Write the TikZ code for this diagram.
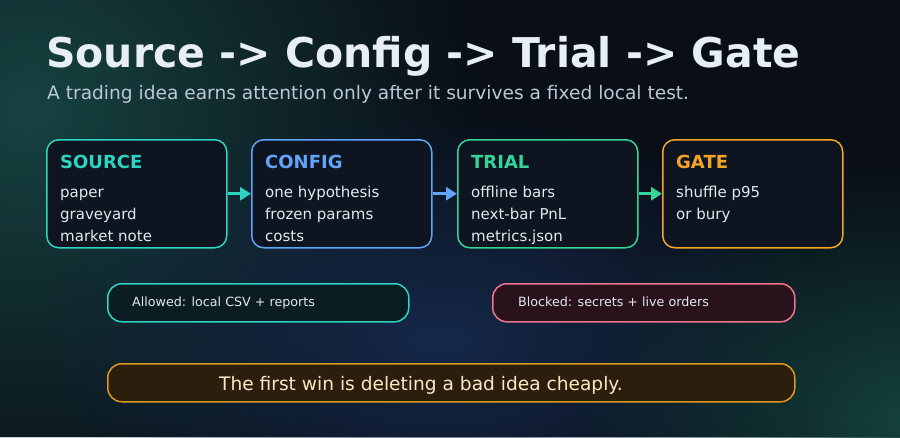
\documentclass[tikz,border=0pt]{standalone}
\usepackage{fontspec}
\setmainfont{DejaVu Sans}
\usetikzlibrary{arrows.meta,fadings}

\definecolor{bgbase}{HTML}{090E17}
\definecolor{bgteal}{HTML}{174241}
\definecolor{bgnavy}{HTML}{16294A}
\definecolor{bgtealb}{HTML}{14403B}
\definecolor{boxfill}{HTML}{0E1520}
\definecolor{titletext}{HTML}{E8EEF5}
\definecolor{subtext}{HTML}{B9C8D3}
\definecolor{bodytext}{HTML}{E2E8F0}
\definecolor{srccol}{HTML}{2DD4BF}
\definecolor{cfgcol}{HTML}{60A5FA}
\definecolor{trialcol}{HTML}{34D399}
\definecolor{gatecol}{HTML}{F5A524}
\definecolor{allowfill}{HTML}{0B1C22}
\definecolor{blockcol}{HTML}{F0758A}
\definecolor{blockfill}{HTML}{2A121D}
\definecolor{notecol}{HTML}{D99A1E}
\definecolor{notefill}{HTML}{2B1E0C}
\definecolor{notetext}{HTML}{FCE7C4}

\tikzfading[name=glow, inner color=transparent!0, outer color=transparent!100]

\tikzset{
  stage/.style={draw=#1, line width=1.5pt, rounded corners=12pt, fill=boxfill,
    minimum width=180pt, minimum height=108pt, anchor=north west, inner sep=0pt},
  stagetitle/.style={text=#1, anchor=base west, inner sep=0pt,
    font=\fontsize{18}{20}\selectfont\bfseries},
  stageline/.style={text=bodytext, anchor=base west, inner sep=0pt,
    font=\fontsize{15}{18}\selectfont},
  flow/.style={line width=3pt, -{Triangle[length=11pt,width=13pt]}},
  pill/.style={draw=#1, line width=1.5pt, rounded corners=14pt,
    minimum height=38pt, anchor=north west, inner sep=0pt},
  pilltext/.style={anchor=base west, inner sep=0pt, font=\fontsize{12.7}{15}\selectfont},
}

% one stage: name, left x, colour, heading, lines
\newcommand{\stagebox}[5]{%
  \node[stage=#3] (#1) at (#2,139) {};
  \node[stagetitle=#3] (#1-title) at (#2+14,168) {#4};
  \foreach \txt [count=\i] in {#5}
    \node[stageline] (#1-\i) at (#2+14,175+22*\i) {\txt};
}

\begin{document}
\begin{tikzpicture}[x=1pt, y=-1pt]
  \useasboundingbox (0,0) rectangle (900,437);
  % background
  \fill[bgbase] (0,0) rectangle (900,437);
  \begin{scope}
    \clip (0,0) rectangle (900,437);
    \fill[bgteal, path fading=glow] (30,110) ellipse (450 and 430);
    \fill[bgnavy, path fading=glow] (440,340) ellipse (400 and 230);
    \fill[bgtealb, path fading=glow] (900,420) ellipse (330 and 260);
  \end{scope}

  % heading
  \node[anchor=base west, inner sep=0pt, text=titletext,
    font=\fontsize{41}{48}\selectfont\bfseries] (title) at (46,67)
    {Source -> Config -> Trial -> Gate};
  \node[anchor=base west, inner sep=0pt, text=subtext,
    font=\fontsize{18.6}{22}\selectfont] (subtitle) at (47,99)
    {A trading idea earns attention only after it survives a fixed local test.};

  % stages
  \stagebox{src}{46}{srccol}{SOURCE}{paper, graveyard, market note}
  \stagebox{cfg}{251}{cfgcol}{CONFIG}{one hypothesis, frozen params, costs}
  \stagebox{trial}{457}{trialcol}{TRIAL}{offline bars, next-bar PnL, metrics.json}
  \stagebox{gate}{662}{gatecol}{GATE}{shuffle p95, or bury}

  \draw[flow, color=srccol] (src.east) -- (cfg.west);
  \draw[flow, color=cfgcol] (cfg.east) -- (trial.west);
  \draw[flow, color=trialcol] (trial.east) -- (gate.west);

  % rules
  \node[pill=srccol, fill=allowfill, minimum width=301pt] (allowed) at (107,283) {};
  \node[pilltext, text=bodytext] (allowed-txt) at (132,306) {Allowed: local CSV + reports};
  \node[pill=blockcol, fill=blockfill, minimum width=302pt] (blocked) at (492,283) {};
  \node[pilltext, text=bodytext] (blocked-txt) at (518,306) {Blocked: secrets + live orders};

  \node[pill=notecol, fill=notefill, minimum width=687pt] (note) at (107,363) {};
  \node[anchor=base west, inner sep=0pt, text=notetext,
    font=\fontsize{18.6}{21}\selectfont] (note-txt) at (219,390)
    {The first win is deleting a bad idea cheaply.};
\end{tikzpicture}
\end{document}
